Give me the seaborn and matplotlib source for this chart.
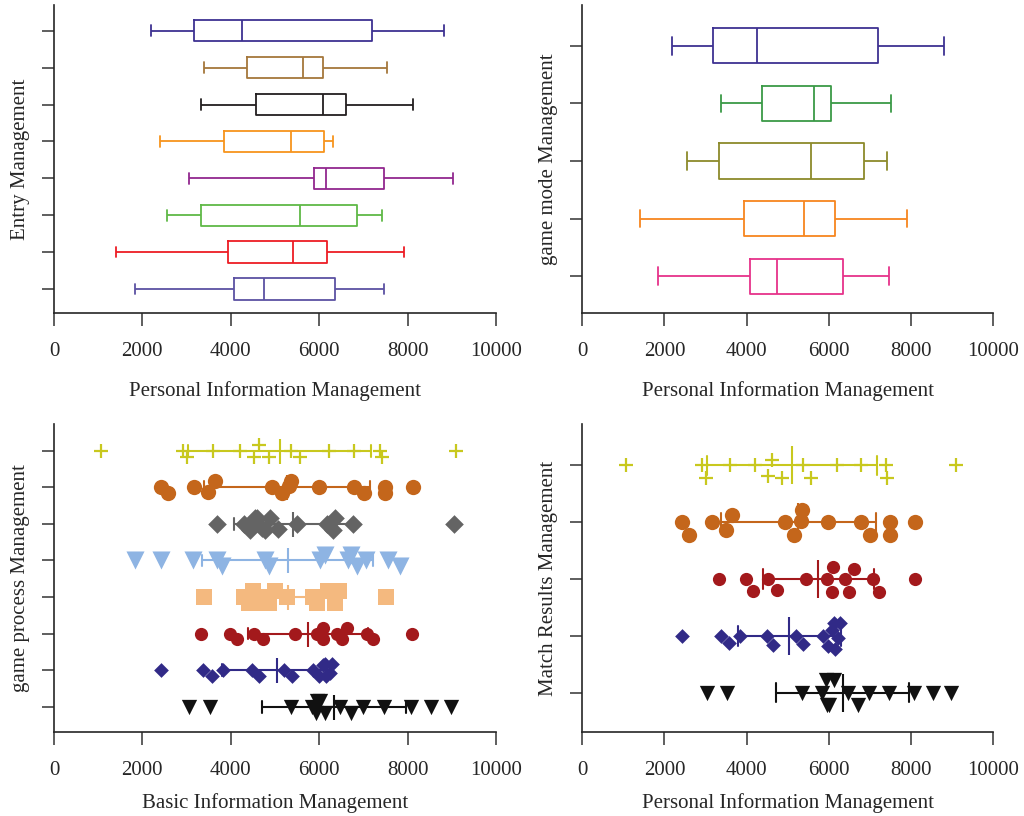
import pandas as pd
import seaborn as sns
import matplotlib.pyplot as plt

# ---- top left: box summaries (low whisker, Q1, median, Q3, high whisker)
entry_groups = ['E1', 'E2', 'E3', 'E4', 'E5', 'E6', 'E7', 'E8']
entry_low = [2196, 3396, 3328, 2400, 3050, 2565, 1397, 1834]
entry_q1 = [3176, 4376, 4566, 3849, 5893, 3321, 3939, 4075]
entry_med = [4263, 5644, 6097, 5366, 6151, 5576, 5418, 4748]
entry_q3 = [7206, 6083, 6611, 6106, 7464, 6867, 6174, 6355]
entry_high = [8814, 7546, 8121, 6310, 9018, 7433, 7917, 7478]
entry_colors = ['#3e3192', '#a5773c', '#231f20', '#f7941d',
                '#92278f', '#5fb946', '#ed1c24', '#5c52a3']

# ---- top right
mode_groups = ['M1', 'M2', 'M3', 'M4', 'M5']
mode_low = [2193, 3380, 2551, 1399, 1837]
mode_q1 = [3185, 4379, 3339, 3948, 4087]
mode_med = [4257, 5654, 5566, 5395, 4745]
mode_q3 = [7199, 6068, 6865, 6166, 6346]
mode_high = [8815, 7530, 7426, 7920, 7482]
mode_colors = ['#3e3192', '#3a9a46', '#8c8a2b', '#f7861f', '#e6338a']

# ---- bottom: individual observations
s_plus = [1062, 2912, 3017, 3601, 4209, 4517, 4631, 4858, 5369, 5563,
          6212, 6788, 7429, 7388, 9093]
s_orange = [2425, 2590, 3158, 3490, 3645, 4937, 5150, 5327, 5362, 5990,
            6780, 7009, 7490, 7490, 8115]
s_gray = [3678, 4299, 4434, 4550, 4599, 4711, 4764, 4898, 5063, 5498,
          6172, 6307, 6359, 6771, 9055]
s_blue = [1827, 2427, 3138, 3700, 3812, 4786, 4861, 6022, 6134, 6659,
          6711, 6846, 7071, 7557, 7820]
s_square = [3400, 4300, 4420, 4500, 4620, 4740, 4860, 5000, 5270, 5850,
            5950, 6200, 6350, 6450, 7520]
s_red = [3326, 3985, 4149, 4524, 4734, 5460, 5962, 6082, 6097, 6397,
         6509, 6621, 7085, 7220, 8097]
s_indigo = [2425, 3380, 3575, 3830, 4490, 4640, 5210, 5380, 5870, 5990,
            6080, 6130, 6160, 6240, 6280]
s_black = [3049, 3536, 5361, 5832, 5937, 5953, 6018, 6139, 6480, 6723,
           6983, 7477, 8086, 8532, 8994]

series = {'plus': s_plus, 'orange': s_orange, 'gray': s_gray, 'blue': s_blue,
          'square': s_square, 'red': s_red, 'indigo': s_indigo, 'black': s_black}
markers = {'plus': '+', 'orange': 'o', 'gray': 'D', 'blue': 'v',
           'square': 's', 'red': 'o', 'indigo': 'D', 'black': 'v'}
sizes = {'plus': 10, 'orange': 11, 'gray': 9.5, 'blue': 13,
         'square': 12, 'red': 9.5, 'indigo': 7.5, 'black': 11}
colors = {'plus': '#c8c81e', 'orange': '#c4661b', 'gray': '#646464',
          'blue': '#8eb4e3', 'square': '#f4b97f', 'red': '#a3191c',
          'indigo': '#312a87', 'black': '#111111'}
process_groups = ['plus', 'orange', 'gray', 'blue', 'square', 'red', 'indigo', 'black']
match_groups = ['plus', 'orange', 'red', 'indigo', 'black']

sns.set_style('ticks')
plt.rcParams['font.family'] = ['Liberation Serif', 'DejaVu Serif']
plt.rcParams['font.size'] = 15
plt.rcParams['axes.linewidth'] = 1.2


def box_frame(groups, low, q1, med, q3, high):
    rows = []
    for i, g in enumerate(groups):
        for v in (low[i], q1[i], med[i], q3[i], high[i]):
            rows.append((g, v))
    return pd.DataFrame(rows, columns=['group', 'value'])


def style_axis(ax, xlabel, ylabel, xpad):
    ax.set_xlim(0, 10000)
    ax.set_xticks(range(0, 10001, 2000))
    ax.set_yticklabels([])
    ax.set_xlabel(xlabel, labelpad=xpad)
    ax.set_ylabel(ylabel, labelpad=5)
    ax.tick_params(axis='both', length=9, width=1.1, color='#333333')
    ax.tick_params(axis='x', pad=12)
    sns.despine(ax=ax)


fig = plt.figure(figsize=(10.24, 8.16), dpi=100)
ax_tl = fig.add_axes([0.0527, 0.6164, 0.4316, 0.3775])
ax_tr = fig.add_axes([0.5687, 0.6164, 0.4008, 0.3775])
ax_bl = fig.add_axes([0.0527, 0.1029, 0.4316, 0.3775])
ax_br = fig.add_axes([0.5687, 0.1029, 0.4008, 0.3775])

# box plots
df_tl = box_frame(entry_groups, entry_low, entry_q1, entry_med, entry_q3, entry_high)
sns.boxplot(data=df_tl, x='value', y='group', order=entry_groups, hue='group',
            hue_order=entry_groups, palette=entry_colors, fill=False,
            whis=(0, 100), width=0.58, linewidth=1.3, legend=False, ax=ax_tl)
ax_tl.set_ylim(7.65, -0.7)
style_axis(ax_tl, 'Personal Information Management', 'Entry Management', 14)

df_tr = box_frame(mode_groups, mode_low, mode_q1, mode_med, mode_q3, mode_high)
sns.boxplot(data=df_tr, x='value', y='group', order=mode_groups, hue='group',
            hue_order=mode_groups, palette=mode_colors, fill=False,
            whis=(0, 100), width=0.61, linewidth=1.3, legend=False, ax=ax_tr)
ax_tr.set_ylim(4.64, -0.71)
style_axis(ax_tr, 'Personal Information Management', 'game mode Management', 14)


# scatter with mean +/- SD; rows spaced `step` apart so the swarm stays narrow
def scatter_panel(ax, groups, step, tick_size, cap):
    rows = [(g, i * step, v) for i, g in enumerate(groups) for v in series[g]]
    df = pd.DataFrame(rows, columns=['group', 'pos', 'value'])
    for g in groups:
        sub = df[df['group'] == g]
        lw = 1.6 if markers[g] == '+' else 0
        sns.swarmplot(data=sub, x='value', y='pos', orient='h', native_scale=True,
                      marker=markers[g], size=sizes[g], color=colors[g],
                      linewidth=lw, warn_thresh=1, ax=ax)
    sns.pointplot(data=df, x='value', y='pos', orient='h', native_scale=True,
                  hue='group', hue_order=groups, palette=[colors[g] for g in groups],
                  errorbar='sd', capsize=cap, linestyle='none', marker='|',
                  markersize=tick_size, markeredgewidth=1.5,
                  err_kws={'linewidth': 1.5}, legend=False, ax=ax)
    n = len(groups)
    ax.set_yticks([i * step for i in range(n)])
    ax.set_ylim((n - 1 + 0.69) * step, -0.73 * step)


scatter_panel(ax_bl, process_groups, 2.5, 18, 0.32)
style_axis(ax_bl, 'Basic Information Management', 'game process Management', 9)

scatter_panel(ax_br, match_groups, 1.8, 27, 0.34)
style_axis(ax_br, 'Personal Information Management', 'Match Results Management', 9)

fig.savefig('out.png', dpi=100)
